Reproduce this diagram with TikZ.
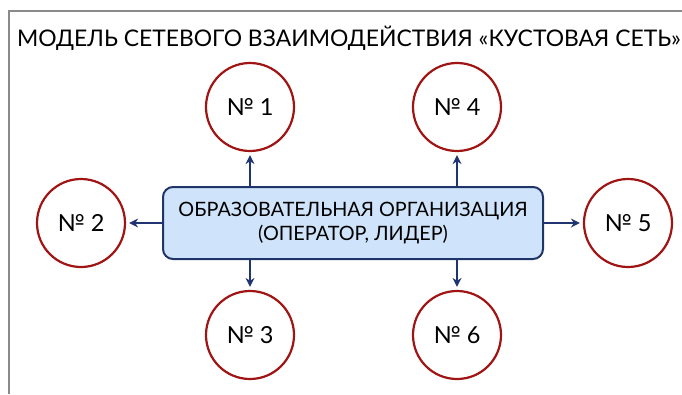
\documentclass[tikz,border=0pt]{standalone}
\usepackage{fontspec}
\setmainfont{Lato}
\usetikzlibrary{positioning,arrows.meta}

\definecolor{framegray}{HTML}{8A8A8A}
\definecolor{memberred}{HTML}{A01414}
\definecolor{leadblue}{HTML}{1F3468}
\definecolor{leadfill}{HTML}{CFE4FA}
\definecolor{linkblue}{HTML}{1F3470}

\begin{document}
\begin{tikzpicture}[x=1pt, y=-1pt,
			% круг-участник кустовой сети
			membernode/.style={circle, draw=memberred, line width=2.2pt, minimum size=88pt, inner sep=0pt, font=\fontsize{23.5}{26}\selectfont},
			% центральная организация, прямоугольник со скруглёнными углами
			leadnode/.style={rectangle, draw=leadblue, fill=leadfill, line width=2pt, rounded corners=10pt, minimum width=380pt, minimum height=72pt, align=center, font=\fontsize{19.8}{24}\selectfont},
			% стрелка от центра к участнику
			link/.style={-{Stealth[length=9pt, width=9pt]}, draw=linkblue, line width=2.2pt, shorten >=3pt}
		]
		\useasboundingbox (0,0) rectangle (682,394);
		\clip (0,0) rectangle (682,394);

		% рамка
		\draw[framegray, line width=1.5pt] (9,394) |- (682,11);
		\node[anchor=west, inner sep=0pt, font=\fontsize{22.9}{26}\selectfont] (title) at (17,38) {МОДЕЛЬ СЕТЕВОГО ВЗАИМОДЕЙСТВИЯ «КУСТОВАЯ СЕТЬ»};

		%Nodes
		\node[leadnode]    (lead)    at (353,223)    {ОБРАЗОВАТЕЛЬНАЯ ОРГАНИЗАЦИЯ\\(ОПЕРАТОР, ЛИДЕР)};
		\node[membernode]  (m1)      at (250,107)    {№ 1};
		\node[membernode]  (m2)      at (81,223)     {№ 2};
		\node[membernode]  (m3)      at (250,335)    {№ 3};
		\node[membernode]  (m4)      at (457,107)    {№ 4};
		\node[membernode]  (m5)      at (628,223)    {№ 5};
		\node[membernode]  (m6)      at (457,335)    {№ 6};

		%Lines
		\draw[link] (lead.north -| m1)    --    (m1);
		\draw[link] (lead.north -| m4)    --    (m4);
		\draw[link] (lead.south -| m3)    --    (m3);
		\draw[link] (lead.south -| m6)    --    (m6);
		\draw[link] (lead.west)           --    (m2);
		\draw[link] (lead.east)           --    (m5);
	\end{tikzpicture}
\end{document}
